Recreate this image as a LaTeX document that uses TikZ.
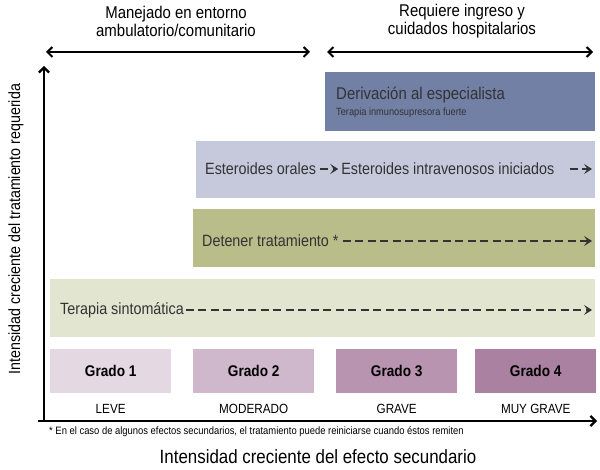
\documentclass[tikz,border=0pt]{standalone}
\usepackage{fontspec}
\setmainfont[FakeStretch=0.88]{Liberation Sans}
\usetikzlibrary{arrows.meta, positioning}
\definecolor{derivblue}{RGB}{114,128,165}
\definecolor{sterlilac}{RGB}{198,200,220}
\definecolor{stopolive}{RGB}{184,189,138}
\definecolor{symptgreen}{RGB}{226,229,208}
\definecolor{gradeone}{RGB}{228,216,227}
\definecolor{gradetwo}{RGB}{207,184,204}
\definecolor{gradethree}{RGB}{185,148,176}
\definecolor{gradefour}{RGB}{170,129,160}
\definecolor{inkgray}{RGB}{51,51,51}

\begin{document}
\begin{tikzpicture}[x=1pt, y=1pt,
    band/.style={rectangle, draw=none, anchor=south west, inner sep=0pt},
    grade/.style={rectangle, anchor=south west, minimum width=121pt, minimum height=44pt, inner sep=0pt, font=\fontsize{15.5}{15.5}\selectfont\bfseries, text=black},
    level/.style={font=\fontsize{13.3}{13.3}\selectfont, text=black},
    label/.style={anchor=west, inner sep=0pt, font=\fontsize{16.3}{16.3}\selectfont, text=inkgray},
    heading/.style={align=center, font=\fontsize{17}{18}\selectfont, text=black},
    flow/.style={-{Stealth[length=8pt, width=10pt, inset=3.5pt]}, line width=2.8pt, inkgray, dash pattern=on 8pt off 4.5pt},
    span/.style={{Straight Barb[length=5pt, width=10pt]}-{Straight Barb[length=5pt, width=10pt]}, line width=2pt},
    axis/.style={-{Straight Barb[length=5pt, width=10pt]}, line width=2.2pt}
]
\useasboundingbox (0,0) rectangle (600,469);

\node[band, fill=derivblue, minimum width=270pt, minimum height=59pt] (deriv) at (325,338) {};
\node[band, fill=sterlilac, minimum width=399pt, minimum height=57pt] (steroid) at (196,271) {};
\node[band, fill=stopolive, minimum width=402pt, minimum height=58pt] (stop) at (193,202) {};
\node[band, fill=symptgreen, minimum width=545pt, minimum height=58pt] (sympt) at (50,132) {};

\node[label, font=\fontsize{17}{17}\selectfont] (derivtxt) at (336,374) {Derivación al especialista};
\node[label, font=\fontsize{10.5}{10.5}\selectfont] (immuno) at (336,356) {Terapia inmunosupresora fuerte};

\node[label] (oral) at (205,300) {Esteroides orales};
\node[label, right=25pt of oral] (iv) {Esteroides intravenosos iniciados};
\coordinate (ivend) at (592,300);
\node[label] (halt) at (202,228) {Detener tratamiento *};
\coordinate (haltend) at (592,228);
\node[label] (symtxt) at (60,159) {Terapia sintomática};
\coordinate (symend) at (592,159);

\draw[flow] ([xshift=4pt]oral.east) -- ([xshift=-3pt]iv.west);
\draw[flow] ([xshift=15pt]iv.east) -- (ivend);
\draw[flow] ([xshift=4pt]halt.east) -- (haltend);
\draw[flow] ([xshift=2pt]symtxt.east) -- (symend);

\node[grade, fill=gradeone] (g1) at (50,76) {Grado 1};
\node[grade, fill=gradetwo] (g2) at (193,76) {Grado 2};
\node[grade, fill=gradethree] (g3) at (336,76) {Grado 3};
\node[grade, fill=gradefour] (g4) at (475,76) {Grado 4};

\node[level] (leve) at ([yshift=-16pt]g1.south) {LEVE};
\node[level] (moder) at ([yshift=-16pt]g2.south) {MODERADO};
\node[level] (grave) at ([yshift=-16pt]g3.south) {GRAVE};
\node[level] (mgrave) at ([yshift=-16pt]g4.south) {MUY GRAVE};

\coordinate (origin) at (44,48);
\coordinate (xend) at (597,48);
\coordinate (xstart) at (38,48);
\coordinate (yend) at (44,403);
\draw[axis] (xstart) -- (xend);
\draw[axis] ([yshift=-1pt]origin) -- (yend);

\coordinate (ambl) at (46,417);
\coordinate (ambr) at (310,417);
\coordinate (hospl) at (327,417);
\coordinate (hospr) at (593,417);
\draw[span] (ambl) -- (ambr);
\draw[span] (hospl) -- (hospr);

\node[heading] (amb) at (176,448) {Manejado en entorno\\ambulatorio/comunitario};
\node[heading] (hosp) at (462,448) {Requiere ingreso y\\cuidados hospitalarios};

\node[anchor=west, inner sep=0pt, font=\fontsize{10.7}{10.7}\selectfont] (note) at (49,37) {* En el caso de algunos efectos secundarios, el tratamiento puede reiniciarse cuando éstos remiten};
\node[font=\fontsize{19.2}{19.2}\selectfont] (xlabel) at (318,12) {Intensidad creciente del efecto secundario};
\node[rotate=90, font=\fontsize{16.2}{16.2}\selectfont] (ylabel) at (16,240) {Intensidad creciente del tratamiento requerida};
\end{tikzpicture}
\end{document}
